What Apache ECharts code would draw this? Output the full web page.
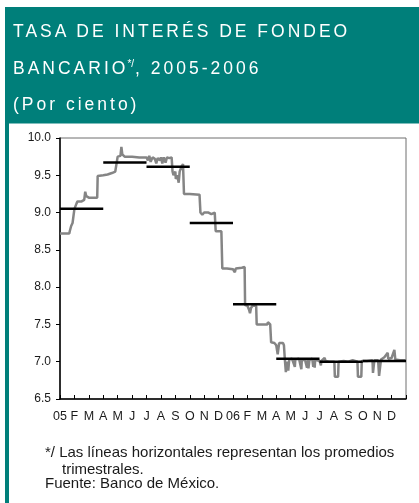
<!DOCTYPE html>
<html>
<head>
<meta charset="utf-8">
<script src="https://cdn.jsdelivr.net/npm/echarts@6/dist/echarts.min.js"></script>
<style>
  html, body { margin: 0; padding: 0; background: #fff; }
  #wrap { position: relative; width: 419px; height: 503px; overflow: hidden; }
  #chart { position: absolute; left: 0; top: 0; width: 419px; height: 503px; }
  .ttl {
    position: absolute; left: 13px; z-index: 2; white-space: nowrap;
    color: #fff; font-family: "Liberation Sans", Arial, sans-serif;
    font-size: 17.5px; line-height: 20px; letter-spacing: 3px;
  }
  .ttl .sup { font-size: 10px; letter-spacing: 0; position: relative; top: -7px; margin: 0 1px 0 -1px; }
</style>
</head>
<body>
<div id="wrap">
  <div id="chart"></div>
  <div class="ttl" style="top:21px">TASA DE INTERÉS DE FONDEO</div>
  <div class="ttl" style="top:58px">BANCARIO<span class="sup">*/</span>, 2005-2006</div>
  <div class="ttl" style="top:94px">(Por ciento)</div>
</div>
<script>
// Month initials along the time axis (one per month, Jan 2005 – Dec 2006)
const monthLabels = ['05', 'F', 'M', 'A', 'M', 'J', 'J', 'A', 'S', 'O', 'N', 'D',
                     '06', 'F', 'M', 'A', 'M', 'J', 'J', 'A', 'S', 'O', 'N', 'D'];

// Daily funding rate (observations at the turning points of the series)
const rateDates = [
  '2005-01-01', '2005-01-21', '2005-01-22', '2005-01-25', '2005-01-28', '2005-02-01', '2005-02-05', '2005-02-07',
  '2005-02-15', '2005-02-20', '2005-02-22', '2005-02-24', '2005-03-01', '2005-03-19', '2005-03-20', '2005-04-01',
  '2005-04-10', '2005-04-19', '2005-04-23', '2005-04-26', '2005-04-29', '2005-05-01', '2005-05-07', '2005-05-09',
  '2005-05-11', '2005-05-16', '2005-06-01', '2005-06-16', '2005-07-01', '2005-07-04', '2005-07-07', '2005-07-10',
  '2005-07-14', '2005-07-19', '2005-07-22', '2005-07-25', '2005-07-30', '2005-08-01', '2005-08-04', '2005-08-07',
  '2005-08-11', '2005-08-14', '2005-08-19', '2005-08-24', '2005-08-26', '2005-08-28', '2005-09-01', '2005-09-02',
  '2005-09-05', '2005-09-08', '2005-09-10', '2005-09-14', '2005-09-17', '2005-09-19', '2005-10-01', '2005-10-22',
  '2005-10-24', '2005-10-28', '2005-11-01', '2005-11-10', '2005-11-16', '2005-11-23', '2005-11-25', '2005-12-07',
  '2005-12-09', '2005-12-19', '2006-01-01', '2006-01-05', '2006-01-07', '2006-01-20', '2006-01-23', '2006-01-26',
  '2006-01-27', '2006-02-01', '2006-02-04', '2006-02-06', '2006-02-08', '2006-02-11', '2006-02-18', '2006-02-19',
  '2006-03-01', '2006-03-13', '2006-03-14', '2006-03-19', '2006-03-21', '2006-03-28', '2006-04-01', '2006-04-04',
  '2006-04-07', '2006-04-15', '2006-04-17', '2006-04-19', '2006-04-21', '2006-04-23', '2006-04-26', '2006-04-28',
  '2006-05-04', '2006-05-08', '2006-05-10', '2006-05-11', '2006-05-19', '2006-05-24', '2006-05-25', '2006-06-01',
  '2006-06-05', '2006-06-07', '2006-06-08', '2006-06-10', '2006-06-16', '2006-06-18', '2006-06-19', '2006-06-21',
  '2006-06-22', '2006-07-01', '2006-07-04', '2006-07-05', '2006-07-12', '2006-07-14', '2006-07-22', '2006-08-02',
  '2006-08-03', '2006-08-10', '2006-08-11', '2006-08-22', '2006-09-01', '2006-09-10', '2006-09-20', '2006-09-21',
  '2006-09-28', '2006-09-29', '2006-10-10', '2006-10-22', '2006-10-23', '2006-10-24', '2006-10-26', '2006-11-03',
  '2006-11-05', '2006-11-08', '2006-11-09', '2006-11-16', '2006-11-23', '2006-11-24', '2006-12-01', '2006-12-07',
  '2006-12-09', '2006-12-19', '2006-12-31'
];
const rateValues = [
  8.72, 8.72, 8.75, 8.82, 8.86, 9.05, 9.12, 9.15,
  9.15, 9.17, 9.28, 9.22, 9.20, 9.20, 9.49, 9.50,
  9.51, 9.53, 9.52, 9.55, 9.54, 9.75, 9.76, 9.88,
  9.78, 9.75, 9.75, 9.74, 9.74, 9.70, 9.76, 9.68,
  9.74, 9.72, 9.66, 9.73, 9.70, 9.74, 9.66, 9.74,
  9.67, 9.74, 9.73, 9.74, 9.55, 9.50, 9.55, 9.45,
  9.50, 9.40, 9.55, 9.62, 9.65, 9.25, 9.25, 9.24,
  9.00, 8.97, 9.00, 9.00, 8.98, 9.00, 8.75, 8.75,
  8.25, 8.25, 8.24, 8.20, 8.25, 8.26, 8.28, 8.27,
  7.76, 7.75, 7.70, 7.65, 7.72, 7.75, 7.75, 7.50,
  7.50, 7.50, 7.53, 7.50, 7.26, 7.25, 7.22, 7.10,
  7.25, 7.25, 7.22, 7.02, 6.86, 7.00, 6.88, 7.03,
  7.04, 7.02, 6.93, 7.03, 7.04, 6.90, 7.03, 7.02,
  6.92, 7.03, 6.91, 7.02, 7.04, 6.93, 7.02, 6.92,
  7.03, 7.01, 6.95, 7.01, 7.05, 7.01, 7.00, 7.00,
  6.80, 6.80, 7.00, 7.01, 7.00, 7.02, 7.00, 6.80,
  6.80, 7.01, 7.01, 7.02, 6.85, 6.85, 7.02, 7.02,
  6.81, 6.81, 7.03, 7.06, 7.12, 7.04, 7.05, 7.16,
  7.03, 7.02, 7.02
];

// Quarterly averages (horizontal segments)
const quarterNames = ['I-05', 'II-05', 'III-05', 'IV-05', 'I-06', 'II-06', 'III-06', 'IV-06'];
const quarterAverages = [9.05, 9.67, 9.615, 8.86, 7.77, 7.04, 7.00, 7.01];

// Y axis range
const yMin = 6.5, yMax = 10.0, yStep = 0.5;

// Position of a date on the month axis (0 = start of Jan 2005)
function monthPos(dateStr) {
  const [y, m, d] = dateStr.split('-').map(Number);
  const daysInMonth = new Date(y, m, 0).getDate();
  return (y - 2005) * 12 + (m - 1) + (d - 1) / daysInMonth;
}

const rateSeriesData = rateDates.map((d, i) => [monthPos(d), rateValues[i]]);

const TEAL = '#007f7a';
const FONT = '"Liberation Sans", Arial, sans-serif';

const quarterSeries = quarterAverages.map((avg, q) => ({
  name: quarterNames[q],
  type: 'line',
  data: [[q * 3, avg], [q * 3 + 3, avg]],
  showSymbol: false,
  lineStyle: { color: '#000', width: 2.5 },
  z: 4,
  silent: true
}));

const chart = echarts.init(document.getElementById('chart'), null, { renderer: 'canvas' });
chart.setOption({
  animation: false,
  backgroundColor: '#fff',
  grid: {
    left: 60, top: 138, width: 346, height: 261,
    show: true, borderColor: '#6e6e6e', borderWidth: 1
  },
  xAxis: {
    type: 'value', min: 0, max: 24, interval: 1,
    axisLine: { lineStyle: { color: '#000', width: 1.5 } },
    axisTick: { inside: true, length: 4, lineStyle: { color: '#000', width: 1 } },
    axisLabel: {
      formatter: v => (monthLabels[v] !== undefined ? monthLabels[v] : ''),
      margin: 11, fontSize: 12.5, color: '#1a1a1a', fontFamily: FONT
    },
    splitLine: { show: false }
  },
  yAxis: {
    type: 'value', min: yMin, max: yMax, interval: yStep,
    axisLine: { show: true, lineStyle: { color: '#000', width: 1.5 } },
    axisTick: { show: true, inside: false, length: 4, lineStyle: { color: '#000', width: 1 } },
    axisLabel: {
      formatter: v => v.toFixed(1),
      margin: 9, fontSize: 12, color: '#1a1a1a', fontFamily: FONT
    },
    splitLine: { show: false }
  },
  graphic: [
    { type: 'rect', shape: { x: 5, y: 7, width: 414, height: 116.5 }, style: { fill: TEAL }, z: 0 },
    { type: 'rect', shape: { x: 5, y: 123, width: 4, height: 380 }, style: { fill: TEAL }, z: 0 },
    { type: 'text', x: 45, y: 453, style: { text: '*/ Las líneas horizontales representan los promedios', font: '15px ' + FONT, fill: '#1a1a1a', verticalAlign: 'middle' } },
    { type: 'text', x: 62, y: 469.5, style: { text: 'trimestrales.', font: '15px ' + FONT, fill: '#1a1a1a', verticalAlign: 'middle' } },
    { type: 'text', x: 45, y: 484, style: { text: 'Fuente: Banco de México.', font: '15px ' + FONT, fill: '#1a1a1a', verticalAlign: 'middle' } }
  ],
  series: [
    {
      name: 'Fondeo bancario',
      type: 'line',
      data: rateSeriesData,
      showSymbol: false,
      lineStyle: { color: '#858585', width: 2.5 },
      z: 3,
      silent: true
    }
  ].concat(quarterSeries)
});
</script>
</body>
</html>
